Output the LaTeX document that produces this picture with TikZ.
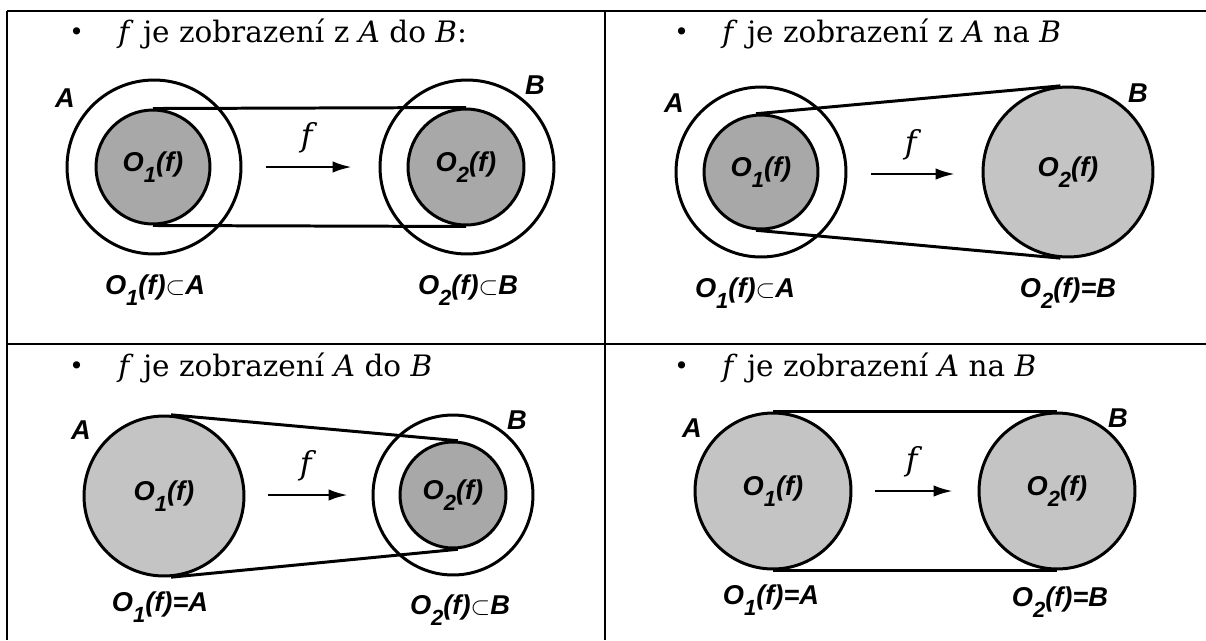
\documentclass[tikz,border=0pt]{standalone}
\usepackage{fontspec}
\usetikzlibrary{arrows.meta}
\newfontfamily\labfont{Liberation Sans}
\newfontfamily\headserif{DejaVu Serif}
\definecolor{darkset}{RGB}{168,168,168}
\definecolor{lightset}{RGB}{196,196,196}
\newcommand{\lab}{\labfont\bfseries\itshape\fontsize{15.5}{17}\selectfont}
\newcommand{\idx}[1]{\raisebox{-6pt}{\fontsize{12.5}{13}\selectfont #1}}
\newcommand{\headfont}{\headserif\fontsize{16.8}{20}\selectfont}
\newcommand{\var}[1]{\textit{#1}}

\begin{document}
\begin{tikzpicture}[x=0.02cm, y=-0.02cm,
    region/.style={circle, draw, line width=1.7pt, inner sep=0pt, minimum size=#1},
    belt/.style={line width=1.7pt},
    fun/.style={line width=1.6pt, -{Latex[length=11pt,width=6.5pt]}},
    lab/.style={font=\lab, inner sep=0pt},
    head/.style={anchor=base west, inner sep=0pt, font=\headfont},
    bul/.style={anchor=base west, inner sep=0pt, font=\headserif\fontsize{14}{16}\selectfont},
    grid/.style={line width=1.1pt}]
        \useasboundingbox (0,0) rectangle (1206,640);

        % Draw the table
        \draw[grid] (7,11) -- (1206,11);
        \draw[grid] (7,344) -- (1206,344);
        \draw[grid] (7,11) -- (7,640);
        \draw[grid] (605,11) -- (605,640);

        % Headings
        \node[bul] (dot1) at (69,40) {•};
        \node[head] (t1) at (118,42) {\var{f} je zobrazení z \var{A} do \var{B}:};
        \node[bul] (dot2) at (674,40) {•};
        \node[head] (t2) at (722,42) {\var{f} je zobrazení z \var{A} na \var{B}};
        \node[bul] (dot3) at (69,374) {•};
        \node[head] (t3) at (118,376) {\var{f} je zobrazení \var{A} do \var{B}};
        \node[bul] (dot4) at (674,374) {•};
        \node[head] (t4) at (722,376) {\var{f} je zobrazení \var{A} na \var{B}};

        % Top left: into
        \node[region=3.48cm] (A1) at (154,167) {};
        \node[region=2.28cm, fill=darkset] (O11) at (153,167) {\lab O\idx{1}(f)};
        \node[region=3.48cm] (B1) at (467,167) {};
        \node[region=2.32cm, fill=darkset] (O21) at (466,167) {\lab O\idx{2}(f)};
        \draw[belt] (O11.north) -- (O21.north);
        \draw[belt] (O11.south) -- (O21.south);
        \coordinate (s1) at (266,167);
        \coordinate (e1) at (352,167);
        \draw[fun] (s1) -- node[above=4pt, font=\headserif\fontsize{18}{18}\selectfont] {\var{f}} (e1);
        \node[lab] at (65,98) {A};
        \node[lab] at (535,85) {B};
        \node[lab] at (155,290) {O\idx{1}(f)$\subset$A};
        \node[lab] at (468,290) {O\idx{2}(f)$\subset$B};

        % Top right: onto
        \node[region=3.4cm] (A2) at (761,172) {};
        \node[region=2.28cm, fill=darkset] (O12) at (761,172) {\lab O\idx{1}(f)};
        \node[region=3.4cm, fill=lightset] (B2) at (1068,172) {\lab O\idx{2}(f)};
        \draw[belt] (O12.95) -- (B2.95);
        \draw[belt] (O12.265) -- (B2.265);
        \coordinate (s2) at (871,174);
        \coordinate (e2) at (955,174);
        \draw[fun] (s2) -- node[above=4pt, font=\headserif\fontsize{18}{18}\selectfont] {\var{f}} (e2);
        \node[lab] at (674,103) {A};
        \node[lab] at (1138,93) {B};
        \node[lab] at (745,293) {O\idx{1}(f)$\subset$A};
        \node[lab] at (1068,293) {O\idx{2}(f)=B};

        % Bottom left: whole A into B
        \node[region=3.2cm, fill=lightset] (A3) at (164,496) {\lab O\idx{1}(f)};
        \node[region=3.2cm] (B3) at (453,495) {};
        \node[region=2.12cm, fill=darkset] (O23) at (453,495) {\lab O\idx{2}(f)};
        \draw[belt] (A3.85) -- (O23.85);
        \draw[belt] (A3.275) -- (O23.275);
        \coordinate (s3) at (268,495);
        \coordinate (e3) at (348,495);
        \draw[fun] (s3) -- node[above=4pt, font=\headserif\fontsize{18}{18}\selectfont] {\var{f}} (e3);
        \node[lab] at (81,430) {A};
        \node[lab] at (517,420) {B};
        \node[lab] at (160,607) {O\idx{1}(f)=A};
        \node[lab] at (460,610) {O\idx{2}(f)$\subset$B};

        % Bottom right: whole A onto B
        \node[region=3.12cm, fill=lightset] (A4) at (773,491) {\lab O\idx{1}(f)};
        \node[region=3.12cm, fill=lightset] (B4) at (1057,491) {\lab O\idx{2}(f)};
        \draw[belt] (A4.north) -- (B4.north);
        \draw[belt] (A4.south) -- (B4.south);
        \coordinate (s4) at (875,491);
        \coordinate (e4) at (953,491);
        \draw[fun] (s4) -- node[above=4pt, font=\headserif\fontsize{18}{18}\selectfont] {\var{f}} (e4);
        \node[lab] at (692,428) {A};
        \node[lab] at (1118,418) {B};
        \node[lab] at (771,600) {O\idx{1}(f)=A};
        \node[lab] at (1060,602) {O\idx{2}(f)=B};
    \end{tikzpicture}
\end{document}
